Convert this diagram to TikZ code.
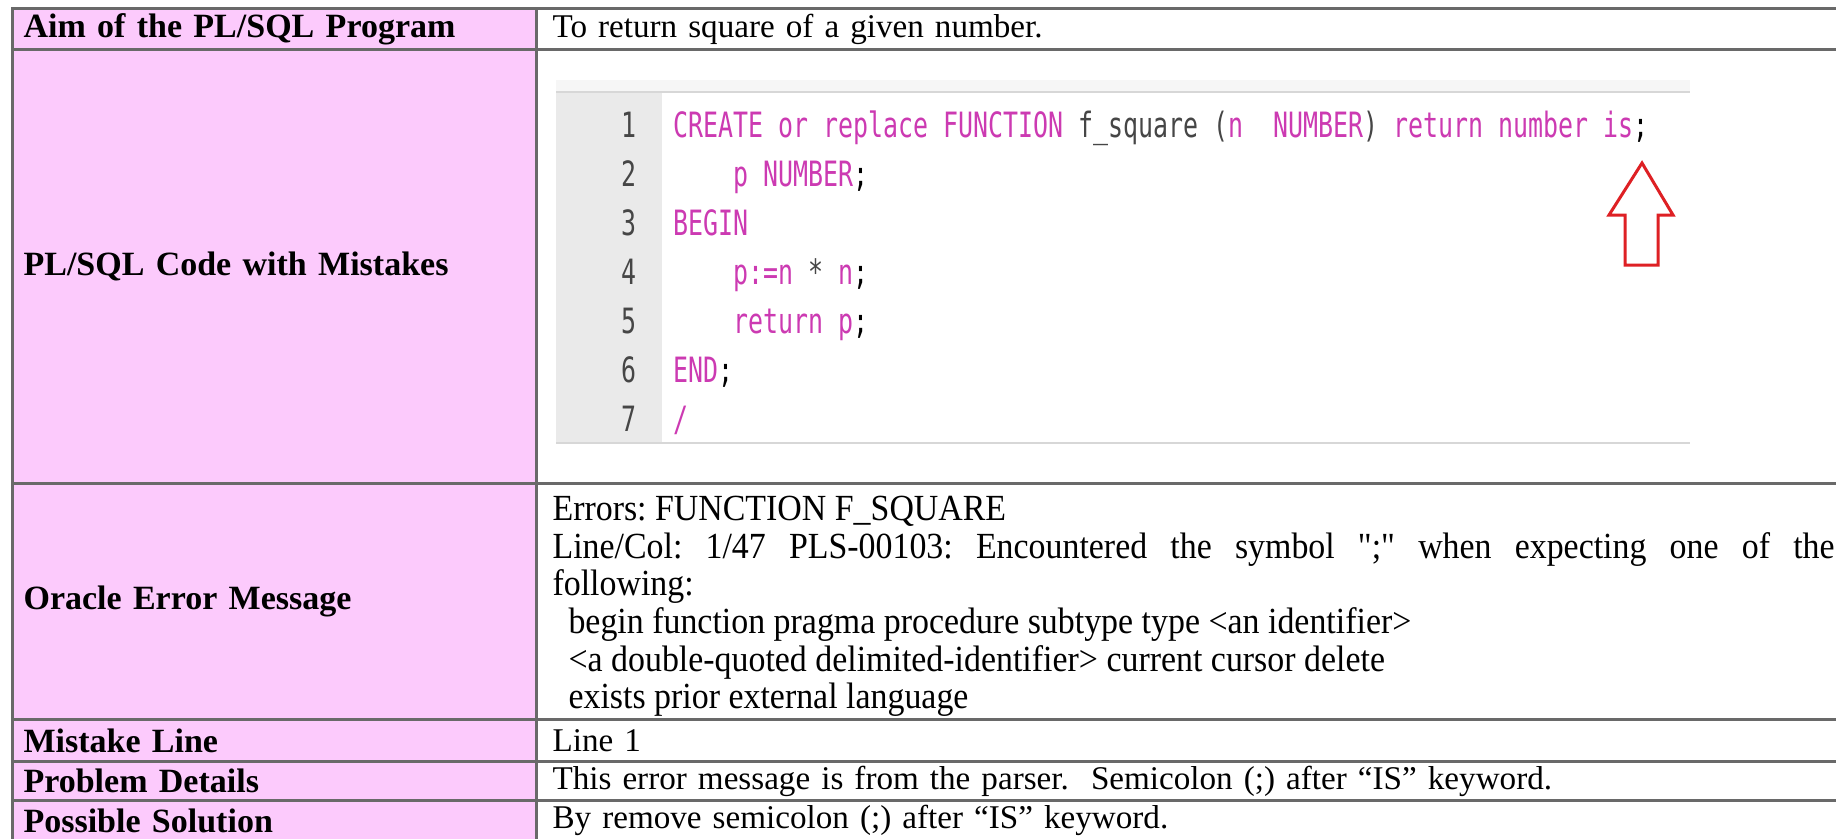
\documentclass[tikz,border=0pt]{standalone}
\usepackage{fontspec}
\setmainfont{Liberation Serif}
\newfontfamily\msgfont[FakeStretch=0.92, Ligatures=TeXOff]{Liberation Serif}
\newfontfamily\codefont[FakeStretch=0.715]{DejaVu Sans Mono}
\usetikzlibrary{matrix}
\definecolor{labelpink}{RGB}{252,202,252}
\definecolor{rulegray}{RGB}{105,105,105}
\definecolor{kwpink}{RGB}{204,58,178}
\definecolor{plaingray}{RGB}{70,70,70}
\definecolor{guttergray}{RGB}{234,234,234}
\definecolor{bargray}{RGB}{246,246,246}
\definecolor{edgegray}{RGB}{215,215,215}
\definecolor{hintred}{RGB}{222,32,36}
\newlength\pxu
\setlength\pxu{0.353pt}
\newcommand{\bodysize}{\fontsize{12}{13.3}\selectfont\frenchspacing}
\newcommand{\msgspacing}{\spaceskip=3pt plus 1.5pt minus 1pt\relax}
\newcommand{\kw}[1]{\textcolor{kwpink}{#1}}
\newcommand{\pl}[1]{\textcolor{plaingray}{#1}}

\begin{document}
\begin{tikzpicture}[x=0.353pt, y=-0.353pt, font=\bodysize,
errtable/.style={matrix of nodes, inner sep=0pt, anchor=north west,
    nodes={draw=rulegray, line width=2.5\pxu, inner xsep=16\pxu, inner ysep=2\pxu,
    align=left, anchor=center}, column sep=-2.5\pxu, row sep=-2.5\pxu, nodes in empty cells,
    column 1/.style={nodes={fill=labelpink, inner xsep=11\pxu, text width=502\pxu,
      font=\bodysize\bfseries}},
    column 2/.style={nodes={text width=1282\pxu, font=\fontsize{11.7}{13.3}\selectfont\frenchspacing}},
    row 1/.style={nodes={minimum height=41\pxu}},
    row 2/.style={nodes={minimum height=434\pxu}},
    row 3/.style={nodes={minimum height=236\pxu}},
    row 4/.style={nodes={minimum height=42\pxu}},
    row 5/.style={nodes={minimum height=39\pxu}},
    row 6/.style={nodes={minimum height=40\pxu}}},
msgbox/.style={text height=35\pxu, text depth=197\pxu,
    font=\fontsize{13}{13.3}\selectfont\msgfont\frenchspacing},
listing/.style={matrix of nodes, inner sep=0pt, anchor=north west,
    nodes={inner sep=0pt, text height=37.2\pxu, text depth=11.8\pxu,
    font=\fontsize{12.3}{14}\selectfont\codefont},
    column sep=37\pxu, row sep=0pt,
    column 1/.style={nodes={anchor=east, text=plaingray}},
    column 2/.style={nodes={anchor=west}}},
hint/.style={draw=hintred, line width=3\pxu, line join=miter}]
\useasboundingbox (0,0) rectangle (1836,838);
\clip (0,0) rectangle (1836,838);
\fill[white] (0,0) rectangle (1836,838);

\matrix[errtable] (tab) at (10.75,6.75) {
Aim of the PL/SQL Program & To return square of a given number.\\
PL/SQL Code with Mistakes & \\
Oracle Error Message & |[msgbox]| \msgspacing Errors: FUNCTION F\_SQUARE\newline
\makebox[\linewidth][s]{\spaceskip=3pt plus 1em\relax Line/Col: 1/47 PLS-00103: Encountered the symbol ";" when expecting one of the}\newline
following:\newline
\hspace*{16\pxu}begin function pragma procedure subtype type <an identifier>\newline
\hspace*{16\pxu}<a double-quoted delimited-identifier> current cursor delete\newline
\hspace*{16\pxu}exists prior external language\\
Mistake Line & Line 1\\
Problem Details & This error message is from the parser.~ Semicolon (;) after “IS” keyword.\\
Possible Solution & By remove semicolon (;) after “IS” keyword.\\
};

% code screenshot in the second row
\fill[bargray] (556,80) rectangle (1690,92);
\fill[guttergray] (556,92) rectangle (662,443);
\draw[edgegray, line width=2\pxu] (556,92) -- (1690,92);
\draw[edgegray, line width=2\pxu] (556,443) -- (1690,443);

\matrix[listing] (lst) at (621,99.5) {
1 & \kw{CREATE or replace FUNCTION} \pl{f\_square (}\kw{n~~NUMBER}\pl{)} \kw{return number is};\\
2 & \phantom{0000}\kw{p NUMBER};\\
3 & \kw{BEGIN}\\
4 & \phantom{0000}\kw{p:=n} \pl{*} \kw{n};\\
5 & \phantom{0000}\kw{return p};\\
6 & \kw{END};\\
7 & \kw{/}\\
};

\draw[hint] (1642,163) -- (1673,215) -- (1658,215) -- (1658,265) -- (1625,265)
  -- (1625,215) -- (1609,215) -- cycle;
\end{tikzpicture}
\end{document}
